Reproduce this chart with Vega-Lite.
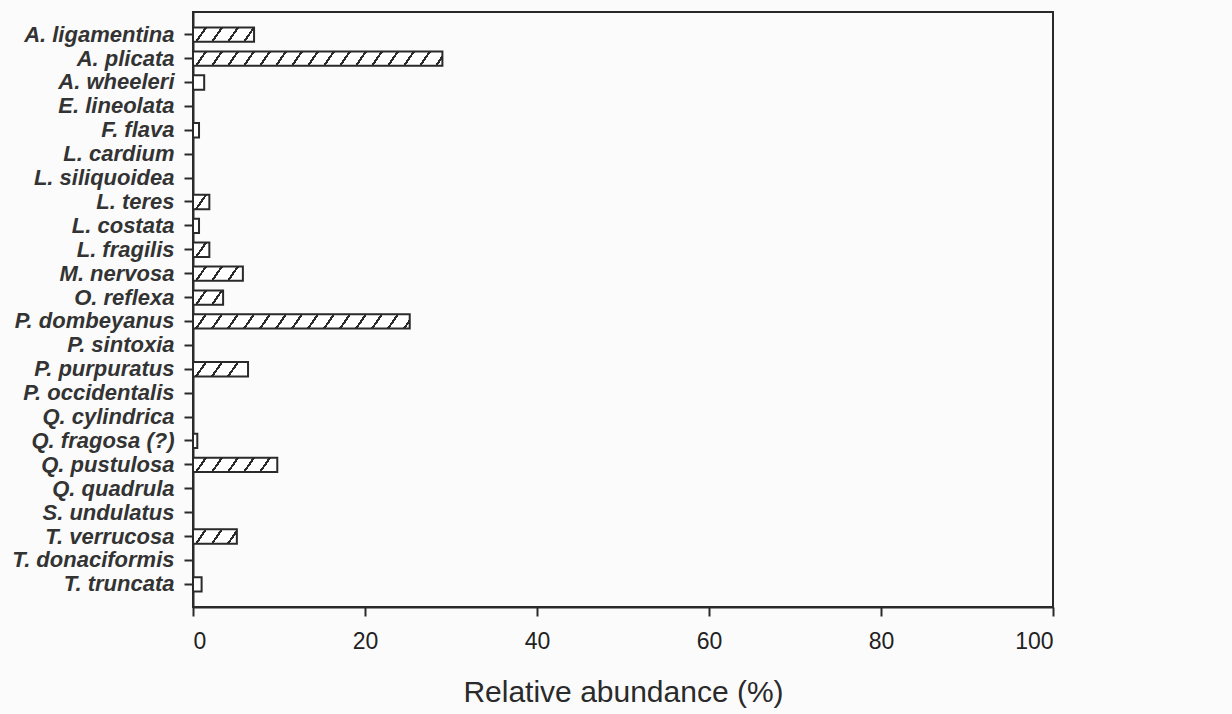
{
  "$schema": "https://vega.github.io/schema/vega-lite/v6.json",
  "width": 860,
  "height": 595,
  "autosize": {"type": "none"},
  "padding": {"left": 193, "top": 12, "right": 179, "bottom": 107},
  "background": "#fbfbfb",
  "config": {
    "view": {"stroke": "#2a2a2a", "strokeWidth": 2},
    "font": "Liberation Sans"
  },
  "data": {
    "values": [
      {"species": "A. ligamentina", "abundance": 7.1},
      {"species": "A. plicata", "abundance": 29.0},
      {"species": "A. wheeleri", "abundance": 1.3},
      {"species": "E. lineolata", "abundance": 0},
      {"species": "F. flava", "abundance": 0.7},
      {"species": "L. cardium", "abundance": 0},
      {"species": "L. siliquoidea", "abundance": 0},
      {"species": "L. teres", "abundance": 1.9},
      {"species": "L. costata", "abundance": 0.7},
      {"species": "L. fragilis", "abundance": 1.9},
      {"species": "M. nervosa", "abundance": 5.8},
      {"species": "O. reflexa", "abundance": 3.5},
      {"species": "P. dombeyanus", "abundance": 25.2},
      {"species": "P. sintoxia", "abundance": 0},
      {"species": "P. purpuratus", "abundance": 6.4},
      {"species": "P. occidentalis", "abundance": 0},
      {"species": "Q. cylindrica", "abundance": 0},
      {"species": "Q. fragosa (?)", "abundance": 0.5},
      {"species": "Q. pustulosa", "abundance": 9.8},
      {"species": "Q. quadrula", "abundance": 0},
      {"species": "S. undulatus", "abundance": 0},
      {"species": "T. verrucosa", "abundance": 5.1},
      {"species": "T. donaciformis", "abundance": 0},
      {"species": "T. truncata", "abundance": 1.0}
    ]
  },
  "mark": {"type": "bar", "stroke": "#2a2a2a", "strokeWidth": 2},
  "encoding": {
    "y": {
      "field": "species",
      "type": "nominal",
      "sort": null,
      "scale": {"paddingInner": 0.4, "paddingOuter": 0.65},
      "axis": {
        "title": null,
        "labelFont": "Liberation Sans",
        "labelFontStyle": "italic",
        "labelFontWeight": "bold",
        "labelFontSize": 22,
        "labelColor": "#333",
        "labelPadding": 10,
        "tickSize": 9,
        "tickWidth": 2,
        "tickColor": "#2a2a2a",
        "domainColor": "#2a2a2a",
        "domainWidth": 2,
        "labelBound": false,
        "labelOverlap": false
      }
    },
    "x": {
      "field": "abundance",
      "type": "quantitative",
      "scale": {"domain": [0, 100], "nice": false},
      "axis": {
        "title": "Relative abundance (%)",
        "values": [0, 20, 40, 60, 80, 100],
        "grid": false,
        "labelFont": "Liberation Sans",
        "labelFontSize": 23,
        "labelFontWeight": "normal",
        "labelColor": "#222",
        "labelPadding": 14,
        "tickSize": 9,
        "tickWidth": 2,
        "tickColor": "#2a2a2a",
        "domainColor": "#2a2a2a",
        "domainWidth": 2,
        "titleFont": "Liberation Sans",
        "titleFontSize": 30,
        "titleFontWeight": "normal",
        "titleColor": "#2a2a2a",
        "titlePadding": 24
      }
    },
    "fill": {
      "condition": [
        {"test": "datum.species === 'A. ligamentina'", "value": {"gradient": "linear", "x1": 0, "y1": 0, "x2": 1.1333, "y2": 0.1855, "stops": [
          {"offset": 0, "color": "#fff"},
          {"offset": 0.16456, "color": "#fff"}, {"offset": 0.16456, "color": "#2a2a2a"}, {"offset": 0.20113, "color": "#2a2a2a"}, {"offset": 0.20113, "color": "#fff"},
          {"offset": 0.38959, "color": "#fff"}, {"offset": 0.38959, "color": "#2a2a2a"}, {"offset": 0.42616, "color": "#2a2a2a"}, {"offset": 0.42616, "color": "#fff"},
          {"offset": 0.61463, "color": "#fff"}, {"offset": 0.61463, "color": "#2a2a2a"}, {"offset": 0.65120, "color": "#2a2a2a"}, {"offset": 0.65120, "color": "#fff"},
          {"offset": 0.83966, "color": "#fff"}, {"offset": 0.83966, "color": "#2a2a2a"}, {"offset": 0.87623, "color": "#2a2a2a"}, {"offset": 0.87623, "color": "#fff"},
          {"offset": 1, "color": "#fff"}]}},
        {"test": "datum.species === 'A. plicata'", "value": {"gradient": "linear", "x1": 0, "y1": 0, "x2": 1.03843, "y2": 0.041637, "stops": [
          {"offset": 0, "color": "#fff"},
          {"offset": 0.045105, "color": "#fff"}, {"offset": 0.045105, "color": "#2a2a2a"}, {"offset": 0.055128, "color": "#2a2a2a"}, {"offset": 0.055128, "color": "#fff"},
          {"offset": 0.106786, "color": "#fff"}, {"offset": 0.106786, "color": "#2a2a2a"}, {"offset": 0.116809, "color": "#2a2a2a"}, {"offset": 0.116809, "color": "#fff"},
          {"offset": 0.168468, "color": "#fff"}, {"offset": 0.168468, "color": "#2a2a2a"}, {"offset": 0.178491, "color": "#2a2a2a"}, {"offset": 0.178491, "color": "#fff"},
          {"offset": 0.230150, "color": "#fff"}, {"offset": 0.230150, "color": "#2a2a2a"}, {"offset": 0.240173, "color": "#2a2a2a"}, {"offset": 0.240173, "color": "#fff"},
          {"offset": 0.291831, "color": "#fff"}, {"offset": 0.291831, "color": "#2a2a2a"}, {"offset": 0.301854, "color": "#2a2a2a"}, {"offset": 0.301854, "color": "#fff"},
          {"offset": 0.353513, "color": "#fff"}, {"offset": 0.353513, "color": "#2a2a2a"}, {"offset": 0.363536, "color": "#2a2a2a"}, {"offset": 0.363536, "color": "#fff"},
          {"offset": 0.415195, "color": "#fff"}, {"offset": 0.415195, "color": "#2a2a2a"}, {"offset": 0.425218, "color": "#2a2a2a"}, {"offset": 0.425218, "color": "#fff"},
          {"offset": 0.476876, "color": "#fff"}, {"offset": 0.476876, "color": "#2a2a2a"}, {"offset": 0.486899, "color": "#2a2a2a"}, {"offset": 0.486899, "color": "#fff"},
          {"offset": 0.538558, "color": "#fff"}, {"offset": 0.538558, "color": "#2a2a2a"}, {"offset": 0.548581, "color": "#2a2a2a"}, {"offset": 0.548581, "color": "#fff"},
          {"offset": 0.600239, "color": "#fff"}, {"offset": 0.600239, "color": "#2a2a2a"}, {"offset": 0.610262, "color": "#2a2a2a"}, {"offset": 0.610262, "color": "#fff"},
          {"offset": 0.661921, "color": "#fff"}, {"offset": 0.661921, "color": "#2a2a2a"}, {"offset": 0.671944, "color": "#2a2a2a"}, {"offset": 0.671944, "color": "#fff"},
          {"offset": 0.723602, "color": "#fff"}, {"offset": 0.723602, "color": "#2a2a2a"}, {"offset": 0.733625, "color": "#2a2a2a"}, {"offset": 0.733625, "color": "#fff"},
          {"offset": 0.785284, "color": "#fff"}, {"offset": 0.785284, "color": "#2a2a2a"}, {"offset": 0.795307, "color": "#2a2a2a"}, {"offset": 0.795307, "color": "#fff"},
          {"offset": 0.846966, "color": "#fff"}, {"offset": 0.846966, "color": "#2a2a2a"}, {"offset": 0.856989, "color": "#2a2a2a"}, {"offset": 0.856989, "color": "#fff"},
          {"offset": 0.908647, "color": "#fff"}, {"offset": 0.908647, "color": "#2a2a2a"}, {"offset": 0.918670, "color": "#2a2a2a"}, {"offset": 0.918670, "color": "#fff"},
          {"offset": 0.970329, "color": "#fff"}, {"offset": 0.970329, "color": "#2a2a2a"}, {"offset": 0.980352, "color": "#2a2a2a"}, {"offset": 0.980352, "color": "#fff"},
          {"offset": 1, "color": "#fff"}]}},
        {"test": "datum.species === 'P. dombeyanus'", "value": {"gradient": "linear", "x1": 0, "y1": 0, "x2": 1.043924, "y2": 0.048173, "stops": [
          {"offset": 0, "color": "#fff"},
          {"offset": 0.051610, "color": "#fff"}, {"offset": 0.051610, "color": "#2a2a2a"}, {"offset": 0.063079, "color": "#2a2a2a"}, {"offset": 0.063079, "color": "#fff"},
          {"offset": 0.122188, "color": "#fff"}, {"offset": 0.122188, "color": "#2a2a2a"}, {"offset": 0.133657, "color": "#2a2a2a"}, {"offset": 0.133657, "color": "#fff"},
          {"offset": 0.192766, "color": "#fff"}, {"offset": 0.192766, "color": "#2a2a2a"}, {"offset": 0.204235, "color": "#2a2a2a"}, {"offset": 0.204235, "color": "#fff"},
          {"offset": 0.263344, "color": "#fff"}, {"offset": 0.263344, "color": "#2a2a2a"}, {"offset": 0.274813, "color": "#2a2a2a"}, {"offset": 0.274813, "color": "#fff"},
          {"offset": 0.333922, "color": "#fff"}, {"offset": 0.333922, "color": "#2a2a2a"}, {"offset": 0.345391, "color": "#2a2a2a"}, {"offset": 0.345391, "color": "#fff"},
          {"offset": 0.404500, "color": "#fff"}, {"offset": 0.404500, "color": "#2a2a2a"}, {"offset": 0.415969, "color": "#2a2a2a"}, {"offset": 0.415969, "color": "#fff"},
          {"offset": 0.475078, "color": "#fff"}, {"offset": 0.475078, "color": "#2a2a2a"}, {"offset": 0.486547, "color": "#2a2a2a"}, {"offset": 0.486547, "color": "#fff"},
          {"offset": 0.545656, "color": "#fff"}, {"offset": 0.545656, "color": "#2a2a2a"}, {"offset": 0.557125, "color": "#2a2a2a"}, {"offset": 0.557125, "color": "#fff"},
          {"offset": 0.616234, "color": "#fff"}, {"offset": 0.616234, "color": "#2a2a2a"}, {"offset": 0.627703, "color": "#2a2a2a"}, {"offset": 0.627703, "color": "#fff"},
          {"offset": 0.686812, "color": "#fff"}, {"offset": 0.686812, "color": "#2a2a2a"}, {"offset": 0.698281, "color": "#2a2a2a"}, {"offset": 0.698281, "color": "#fff"},
          {"offset": 0.757390, "color": "#fff"}, {"offset": 0.757390, "color": "#2a2a2a"}, {"offset": 0.768859, "color": "#2a2a2a"}, {"offset": 0.768859, "color": "#fff"},
          {"offset": 0.827968, "color": "#fff"}, {"offset": 0.827968, "color": "#2a2a2a"}, {"offset": 0.839437, "color": "#2a2a2a"}, {"offset": 0.839437, "color": "#fff"},
          {"offset": 0.898546, "color": "#fff"}, {"offset": 0.898546, "color": "#2a2a2a"}, {"offset": 0.910015, "color": "#2a2a2a"}, {"offset": 0.910015, "color": "#fff"},
          {"offset": 0.969124, "color": "#fff"}, {"offset": 0.969124, "color": "#2a2a2a"}, {"offset": 0.980593, "color": "#2a2a2a"}, {"offset": 0.980593, "color": "#fff"},
          {"offset": 1, "color": "#fff"}]}},
        {"test": "datum.species === 'Q. pustulosa'", "value": {"gradient": "linear", "x1": 0, "y1": 0, "x2": 1.103101, "y2": 0.130855, "stops": [
          {"offset": 0, "color": "#fff"},
          {"offset": 0.124072, "color": "#fff"}, {"offset": 0.124072, "color": "#2a2a2a"}, {"offset": 0.151644, "color": "#2a2a2a"}, {"offset": 0.151644, "color": "#fff"},
          {"offset": 0.293743, "color": "#fff"}, {"offset": 0.293743, "color": "#2a2a2a"}, {"offset": 0.321315, "color": "#2a2a2a"}, {"offset": 0.321315, "color": "#fff"},
          {"offset": 0.463414, "color": "#fff"}, {"offset": 0.463414, "color": "#2a2a2a"}, {"offset": 0.490986, "color": "#2a2a2a"}, {"offset": 0.490986, "color": "#fff"},
          {"offset": 0.633085, "color": "#fff"}, {"offset": 0.633085, "color": "#2a2a2a"}, {"offset": 0.660657, "color": "#2a2a2a"}, {"offset": 0.660657, "color": "#fff"},
          {"offset": 0.802756, "color": "#fff"}, {"offset": 0.802756, "color": "#2a2a2a"}, {"offset": 0.830328, "color": "#2a2a2a"}, {"offset": 0.830328, "color": "#fff"},
          {"offset": 1, "color": "#fff"}]}},
        {"test": "datum.species === 'P. purpuratus'", "value": {"gradient": "linear", "x1": 0, "y1": 0, "x2": 1.144, "y2": 0.208, "stops": [
          {"offset": 0, "color": "#fff"},
          {"offset": 0.180000, "color": "#fff"}, {"offset": 0.180000, "color": "#2a2a2a"}, {"offset": 0.220000, "color": "#2a2a2a"}, {"offset": 0.220000, "color": "#fff"},
          {"offset": 0.426154, "color": "#fff"}, {"offset": 0.426154, "color": "#2a2a2a"}, {"offset": 0.466154, "color": "#2a2a2a"}, {"offset": 0.466154, "color": "#fff"},
          {"offset": 0.672308, "color": "#fff"}, {"offset": 0.672308, "color": "#2a2a2a"}, {"offset": 0.712308, "color": "#2a2a2a"}, {"offset": 0.712308, "color": "#fff"},
          {"offset": 1, "color": "#fff"}]}},
        {"test": "datum.species === 'M. nervosa'", "value": {"gradient": "linear", "x1": 0, "y1": 0, "x2": 1.154053, "y2": 0.231274, "stops": [
          {"offset": 0, "color": "#fff"},
          {"offset": 0.195326, "color": "#fff"}, {"offset": 0.195326, "color": "#2a2a2a"}, {"offset": 0.238731, "color": "#2a2a2a"}, {"offset": 0.238731, "color": "#fff"},
          {"offset": 0.462438, "color": "#fff"}, {"offset": 0.462438, "color": "#2a2a2a"}, {"offset": 0.505843, "color": "#2a2a2a"}, {"offset": 0.505843, "color": "#fff"},
          {"offset": 0.729550, "color": "#fff"}, {"offset": 0.729550, "color": "#2a2a2a"}, {"offset": 0.772955, "color": "#2a2a2a"}, {"offset": 0.772955, "color": "#fff"},
          {"offset": 1, "color": "#fff"}]}},
        {"test": "datum.species === 'T. verrucosa'", "value": {"gradient": "linear", "x1": 0, "y1": 0, "x2": 1.167224, "y2": 0.265882, "stops": [
          {"offset": 0, "color": "#fff"},
          {"offset": 0.217069, "color": "#fff"}, {"offset": 0.217069, "color": "#2a2a2a"}, {"offset": 0.265306, "color": "#2a2a2a"}, {"offset": 0.265306, "color": "#fff"},
          {"offset": 0.513915, "color": "#fff"}, {"offset": 0.513915, "color": "#2a2a2a"}, {"offset": 0.562152, "color": "#2a2a2a"}, {"offset": 0.562152, "color": "#fff"},
          {"offset": 0.810761, "color": "#fff"}, {"offset": 0.810761, "color": "#2a2a2a"}, {"offset": 0.858998, "color": "#2a2a2a"}, {"offset": 0.858998, "color": "#fff"},
          {"offset": 1, "color": "#fff"}]}},
        {"test": "datum.species === 'O. reflexa'", "value": {"gradient": "linear", "x1": 0, "y1": 0, "x2": 1.199799, "y2": 0.398605, "stops": [
          {"offset": 0, "color": "#fff"},
          {"offset": 0.291771, "color": "#fff"}, {"offset": 0.291771, "color": "#2a2a2a"}, {"offset": 0.356608, "color": "#2a2a2a"}, {"offset": 0.356608, "color": "#fff"},
          {"offset": 0.690773, "color": "#fff"}, {"offset": 0.690773, "color": "#2a2a2a"}, {"offset": 0.755610, "color": "#2a2a2a"}, {"offset": 0.755610, "color": "#fff"},
          {"offset": 1, "color": "#fff"}]}},
        {"test": "datum.species === 'L. teres' || datum.species === 'L. fragilis'", "value": {"gradient": "linear", "x1": 0, "y1": 0, "x2": 1.17228, "y2": 0.71919, "stops": [
          {"offset": 0, "color": "#fff"},
          {"offset": 0.444867, "color": "#fff"}, {"offset": 0.444867, "color": "#2a2a2a"}, {"offset": 0.543726, "color": "#2a2a2a"}, {"offset": 0.543726, "color": "#fff"},
          {"offset": 1, "color": "#fff"}]}}
      ],
      "value": "#fff"
    }
  }
}
